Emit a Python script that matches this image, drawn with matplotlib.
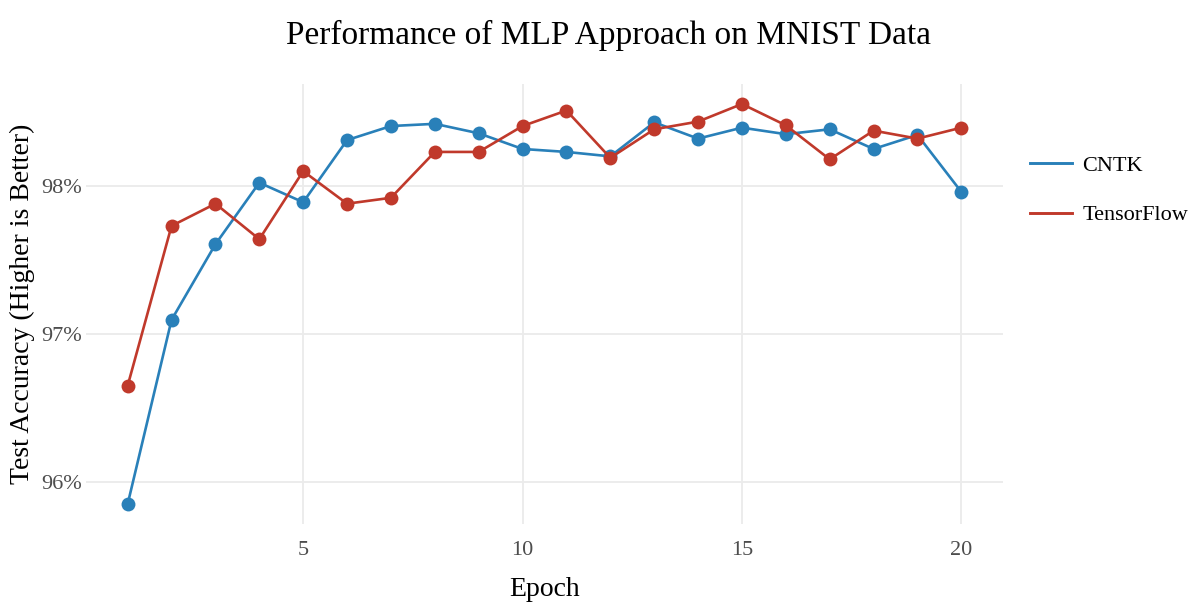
import matplotlib
matplotlib.use("Agg")
import matplotlib.pyplot as plt
from matplotlib.ticker import FuncFormatter
from matplotlib.lines import Line2D

epochs = list(range(1, 21))
cntk = [95.85, 97.095, 97.606, 98.022, 97.89, 98.31, 98.405, 98.42, 98.356, 98.25,
        98.23, 98.20, 98.43, 98.32, 98.394, 98.35, 98.383, 98.25, 98.345, 97.96]
tensorflow = [96.65, 97.73, 97.88, 97.64, 98.10, 97.88, 97.92, 98.23, 98.23, 98.405,
              98.51, 98.19, 98.383, 98.435, 98.554, 98.41, 98.18, 98.374, 98.32, 98.394]
series_names = ["CNTK", "TensorFlow"]
colors = ["#2980b9", "#c0392b"]
x_ticks = [5, 10, 15, 20]
y_ticks = [96, 97, 98]

plt.rcParams['font.family'] = ['Liberation Serif', 'DejaVu Serif']

W, H = 1201, 608
fig = plt.figure(figsize=(W / 100, H / 100), dpi=100)
ax = fig.add_axes([86 / W, (H - 524) / H, (1003 - 86) / W, (524 - 84) / H])

for vals, name, c in zip([cntk, tensorflow], series_names, colors):
    ax.plot(epochs, vals, color=c, linewidth=1.9, marker='o', markersize=10,
            markeredgewidth=0, label=name, zorder=3)

lo = min(min(cntk), min(tensorflow))
hi = max(max(cntk), max(tensorflow))
pad = (hi - lo) * 0.05
ax.set_ylim(lo - pad, hi + pad)
ax.set_xlim(1 - 19 * 0.05, 20 + 19 * 0.05)

ax.set_xticks(x_ticks)
ax.set_yticks(y_ticks)
ax.yaxis.set_major_formatter(FuncFormatter(lambda v, p: f"{v:.0f}%"))
ax.grid(True, color='#ebebeb', linewidth=1.3, zorder=0)
ax.set_axisbelow(True)
for s in ax.spines.values():
    s.set_visible(False)
ax.tick_params(length=0, labelsize=16, labelcolor='#4d4d4d')
ax.tick_params(axis='x', pad=12)
ax.tick_params(axis='y', pad=3)

fig.text(545 / W, 1 - 590 / H, "Epoch", ha='center', va='center', fontsize=20)
fig.text(22 / W, 1 - 304 / H, "Test Accuracy (Higher is Better)", ha='center',
         va='center', rotation=90, fontsize=20)
fig.text(608 / W, 1 - 35 / H, "Performance of MLP Approach on MNIST Data",
         ha='center', va='center', fontsize=24)

handles = [Line2D([0], [0], color=c, linewidth=2.1) for c in colors]
fig.legend(handles, series_names, loc='upper left', bbox_to_anchor=(1030 / W, 1 - 155 / H),
           frameon=False, fontsize=16, handlelength=1.9, labelspacing=1.32,
           handletextpad=0.45, borderpad=0, borderaxespad=0)

fig.savefig("out.png", dpi=100)
